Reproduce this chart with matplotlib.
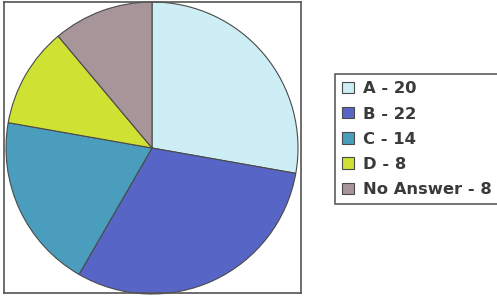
import matplotlib
matplotlib.use("Agg")
import matplotlib.pyplot as plt

labels = ["A - 20", "B - 22", "C - 14", "D - 8", "No Answer - 8"]
values = [20, 22, 14, 8, 8]
colors = ["#cdeef4", "#5765c6", "#4a9dbc", "#cfe233", "#a8959a"]

W, H = 497, 298
fig = plt.figure(figsize=(W / 100, H / 100), dpi=100)
fig.patch.set_facecolor("white")

# plot frame in pixel coords: x 4..300, y 2..293
fx0, fy0, fx1, fy1 = 4, 2, 301, 293
ax = fig.add_axes([fx0 / W, 1 - fy1 / H, (fx1 - fx0) / W, (fy1 - fy0) / H])
wedges, _ = ax.pie(values, colors=colors, startangle=90, counterclock=False,
                   center=(148, 145), radius=146, frame=True,
                   wedgeprops=dict(edgecolor="#4a4a4a", linewidth=0.8))
ax.set_xlim(0, fx1 - fx0)
ax.set_ylim(0, fy1 - fy0)
ax.set_aspect("auto")
ax.set_xticks([])
ax.set_yticks([])
for s in ax.spines.values():
    s.set_edgecolor("#555555")
    s.set_linewidth(1.2)

fs = 11.8
leg = fig.legend(wedges, labels, loc="upper left",
                 bbox_to_anchor=(335 / W, 1 - 74 / H),
                 frameon=True, fancybox=False, edgecolor="#333333",
                 prop=dict(family="DejaVu Sans", weight="bold", size=fs),
                 handlelength=0.68, handleheight=0.68, handletextpad=0.55,
                 labelspacing=0.62, borderpad=0.45, borderaxespad=0)
leg.get_frame().set_linewidth(1.2)
for t in leg.get_texts():
    t.set_color("#3a3a3a")

fig.savefig("out.png", dpi=100)
